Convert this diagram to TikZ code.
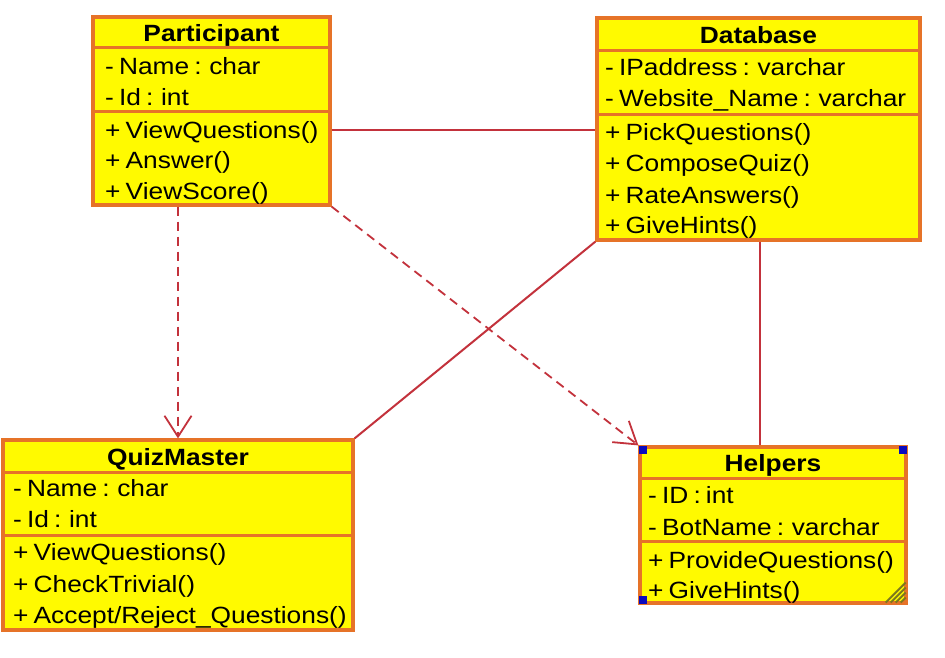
\documentclass[tikz,border=0pt]{standalone}
\usepackage{fontspec}
\setmainfont{Liberation Sans}[FakeStretch=1.12,WordSpace=0.7]
\usetikzlibrary{arrows.meta}
\definecolor{boxfill}{RGB}{255,250,0}
\definecolor{boxline}{RGB}{230,115,40}
\definecolor{conn}{RGB}{195,50,60}
\definecolor{handleblue}{RGB}{10,10,190}
\definecolor{grip}{RGB}{125,120,30}
\begin{document}
\begin{tikzpicture}[x=1pt,y=-1pt,
  classbox/.style={draw=boxline, fill=boxfill, line width=3.2pt, inner sep=0pt, rectangle},
  sepline/.style={draw=boxline, line width=3pt},
  txt/.style={anchor=west, inner sep=0pt, text height=17pt, text depth=0pt, font=\fontsize{23.5}{31}\selectfont},
  hdr/.style={inner sep=0pt, text height=17pt, text depth=0pt, font=\fontsize{23.5}{31}\selectfont\bfseries},
  assoc/.style={draw=conn, line width=2pt},
  dep/.style={draw=conn, line width=1.8pt, dash pattern=on 9pt off 6pt, -{Straight Barb[length=21pt,width=27pt,line width=1.8pt]}},
  handle/.style={fill=handleblue, inner sep=0pt, minimum size=8pt, draw=none},
  gripline/.style={draw=grip, line width=2pt}]
\useasboundingbox (0,0) rectangle (945,658);
\fill[white] (0,0) rectangle (945,658);

% Participant
\node[classbox, minimum width=237pt, minimum height=188pt] (part) at (211.5,111) {};
\draw[sepline] (part.west |- 0,48) -- (part.east |- 0,48);
\draw[sepline] (part.west |- 0,112) -- (part.east |- 0,112);
\node[hdr] (partH) at (211.5,33) {Participant};
\node[txt] (partA1) at (105,66) {- Name : char};
\node[txt] (partA2) at (105,97) {- Id : int};
\node[txt] (partM1) at (105,130) {+ ViewQuestions()};
\node[txt] (partM2) at (105,160) {+ Answer()};
\node[txt] (partM3) at (105,191) {+ ViewScore()};

% Database
\node[classbox, minimum width=323pt, minimum height=222pt] (db) at (758.5,129) {};
\draw[sepline] (db.west |- 0,51) -- (db.east |- 0,51);
\draw[sepline] (db.west |- 0,115) -- (db.east |- 0,115);
\node[hdr] (dbH) at (758.5,35) {Database};
\node[txt] (dbA1) at (605,67) {- IPaddress : varchar};
\node[txt] (dbA2) at (605,98) {- Website\_Name : varchar};
\node[txt] (dbM1) at (605,132) {+ PickQuestions()};
\node[txt] (dbM2) at (605,163) {+ ComposeQuiz()};
\node[txt] (dbM3) at (605,195) {+ RateAnswers()};
\node[txt] (dbM4) at (605,225) {+ GiveHints()};

% QuizMaster
\node[classbox, minimum width=350pt, minimum height=190pt] (qm) at (178,535) {};
\draw[sepline] (qm.west |- 0,472) -- (qm.east |- 0,472);
\draw[sepline] (qm.west |- 0,535) -- (qm.east |- 0,535);
\node[hdr] (qmH) at (178,457) {QuizMaster};
\node[txt] (qmA1) at (13,488) {- Name : char};
\node[txt] (qmA2) at (13,519) {- Id : int};
\node[txt] (qmM1) at (13,552) {+ ViewQuestions()};
\node[txt] (qmM2) at (13,584) {+ CheckTrivial()};
\node[txt] (qmM3) at (13,615) {+ Accept/Reject\_Questions()};

% Helpers
\node[classbox, minimum width=266pt, minimum height=156pt] (help) at (773,525) {};
\draw[sepline] (help.west |- 0,478) -- (help.east |- 0,478);
\draw[sepline] (help.west |- 0,541) -- (help.east |- 0,541);
\node[hdr] (helpH) at (773,463) {Helpers};
\node[txt] (helpA1) at (648,495) {- ID : int};
\node[txt] (helpA2) at (648,527) {- BotName : varchar};
\node[txt] (helpM1) at (648,560) {+ ProvideQuestions()};
\node[txt] (helpM2) at (648,590) {+ GiveHints()};
\foreach \k in {7,12,17,22} {
  \draw[gripline] ([xshift=-\k pt, yshift=2pt]help.south east) -- ([xshift=-2pt, yshift=\k pt]help.south east);
}
\node[handle, anchor=north west] (hNW) at (help.north west) {};
\node[handle, anchor=north east] (hNE) at (help.north east) {};
\node[handle, anchor=south west] (hSW) at (help.south west) {};

% Connectors
\draw[assoc] (part.east |- 0,130) -- (db.west |- 0,130);
\draw[assoc] (db.south west) -- (qm.north east);
\draw[assoc] (db.south -| 760,0) -- (help.north -| 760,0);
\draw[dep] (part.south -| 178,0) -- (qm.north -| 178,0);
\draw[dep] (part.south east) -- (help.north west);
\end{tikzpicture}
\end{document}
